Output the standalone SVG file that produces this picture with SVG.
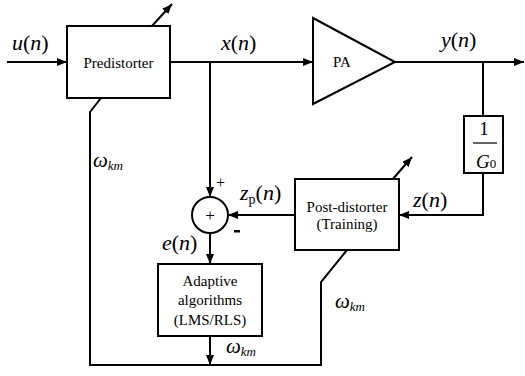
<svg xmlns="http://www.w3.org/2000/svg" width="525" height="376" viewBox="0 0 525 376" font-family="Liberation Serif, Times New Roman, DejaVu Serif, serif">
<style>
.ln{fill:none;stroke:#000;stroke-width:2}
.bx{fill:#fff;stroke:#000;stroke-width:2}
.t{font-size:15px}
.m{font-size:22px}
.i{font-style:italic}
.w{font-size:21px;font-style:italic}
.s{font-size:13px}
</style>
<defs>
<marker id="ah" viewBox="0 0 10 8" refX="10" refY="4" markerWidth="10" markerHeight="8" markerUnits="userSpaceOnUse" orient="auto">
<path d="M0,0 L10,4 L0,8 z" fill="#000"/>
</marker>
</defs>
<rect width="525" height="376" fill="#fff"/>
<g id="connectors">
<line class="ln" x1="7" y1="62" x2="67" y2="62" marker-end="url(#ah)"/>
<line class="ln" x1="170" y1="62" x2="313" y2="62" marker-end="url(#ah)"/>
<line class="ln" x1="395" y1="62" x2="524" y2="62" marker-end="url(#ah)"/>
<polyline class="ln" points="483,62 483,116"/>
<polyline class="ln" points="483,173 483,215 399,215" marker-end="url(#ah)"/>
<line class="ln" x1="210" y1="62" x2="210" y2="197" marker-end="url(#ah)"/>
<line class="ln" x1="295" y1="215" x2="228" y2="215" marker-end="url(#ah)"/>
<line class="ln" x1="210" y1="233" x2="210" y2="264" marker-end="url(#ah)"/>
<line class="ln" x1="210" y1="336" x2="210" y2="365" marker-end="url(#ah)"/>
<polyline class="ln" points="101,98 90,112 90,365 321,365 321,282 347,250"/>
<line class="ln" x1="152" y1="26" x2="172" y2="4" marker-end="url(#ah)"/>
<line class="ln" x1="392" y1="180" x2="412" y2="157" marker-end="url(#ah)"/>
</g>
<g id="predistorter">
<rect class="bx" x="67" y="26" width="103" height="72"/>
<text class="t" x="118.5" y="68" text-anchor="middle">Predistorter</text>
</g>
<g id="pa">
<polygon class="bx" points="313,18 395,62 313,104"/>
<text class="t" x="342" y="67" text-anchor="middle">PA</text>
</g>
<g id="gain">
<rect class="bx" x="464" y="116" width="39" height="57"/>
<text x="484" y="135" text-anchor="middle" font-size="19">1</text>
<line x1="473" y1="143" x2="497" y2="143" stroke="#000" stroke-width="1.2"/>
<text x="476" y="168" font-size="19"><tspan class="i">G</tspan><tspan font-size="13">0</tspan></text>
</g>
<g id="postdistorter">
<rect class="bx" x="295" y="179" width="104" height="71"/>
<text class="t" x="347" y="212" text-anchor="middle">Post-distorter</text>
<text class="t" x="347" y="229" text-anchor="middle">(Training)</text>
</g>
<g id="summer">
<circle class="bx" cx="210" cy="215" r="18"/>
<text x="210" y="221" text-anchor="middle" font-size="17">+</text>
</g>
<g id="adaptive">
<rect class="bx" x="158" y="264" width="104" height="72"/>
<text class="t" x="210" y="286" text-anchor="middle">Adaptive</text>
<text class="t" x="210" y="305" text-anchor="middle">algorithms</text>
<text class="t" x="210" y="325" text-anchor="middle">(LMS/RLS)</text>
</g>
<g id="labels">
<text class="m" x="12" y="50"><tspan class="i">u</tspan>(<tspan class="i">n</tspan>)</text>
<text class="m" x="221" y="50"><tspan class="i">x</tspan>(<tspan class="i">n</tspan>)</text>
<text class="m" x="441" y="47"><tspan class="i">y</tspan>(<tspan class="i">n</tspan>)</text>
<text class="m" x="240" y="200"><tspan class="i">z</tspan><tspan font-size="14" dy="4">p</tspan><tspan dy="-4">(</tspan><tspan class="i">n</tspan>)</text>
<text class="m" x="413" y="207"><tspan class="i">z</tspan>(<tspan class="i">n</tspan>)</text>
<text class="m" x="162" y="250"><tspan class="i">e</tspan>(<tspan class="i">n</tspan>)</text>
<text x="216" y="188" font-size="16">+</text>
<rect x="234" y="230" width="6" height="2.5" fill="#000"/>
<text class="w" x="93" y="167">ω<tspan class="s" dy="3">km</tspan></text>
<text class="w" x="335" y="308">ω<tspan class="s" dy="3">km</tspan></text>
<text class="w" x="226" y="353">ω<tspan class="s" dy="3">km</tspan></text>
</g>
</svg>
